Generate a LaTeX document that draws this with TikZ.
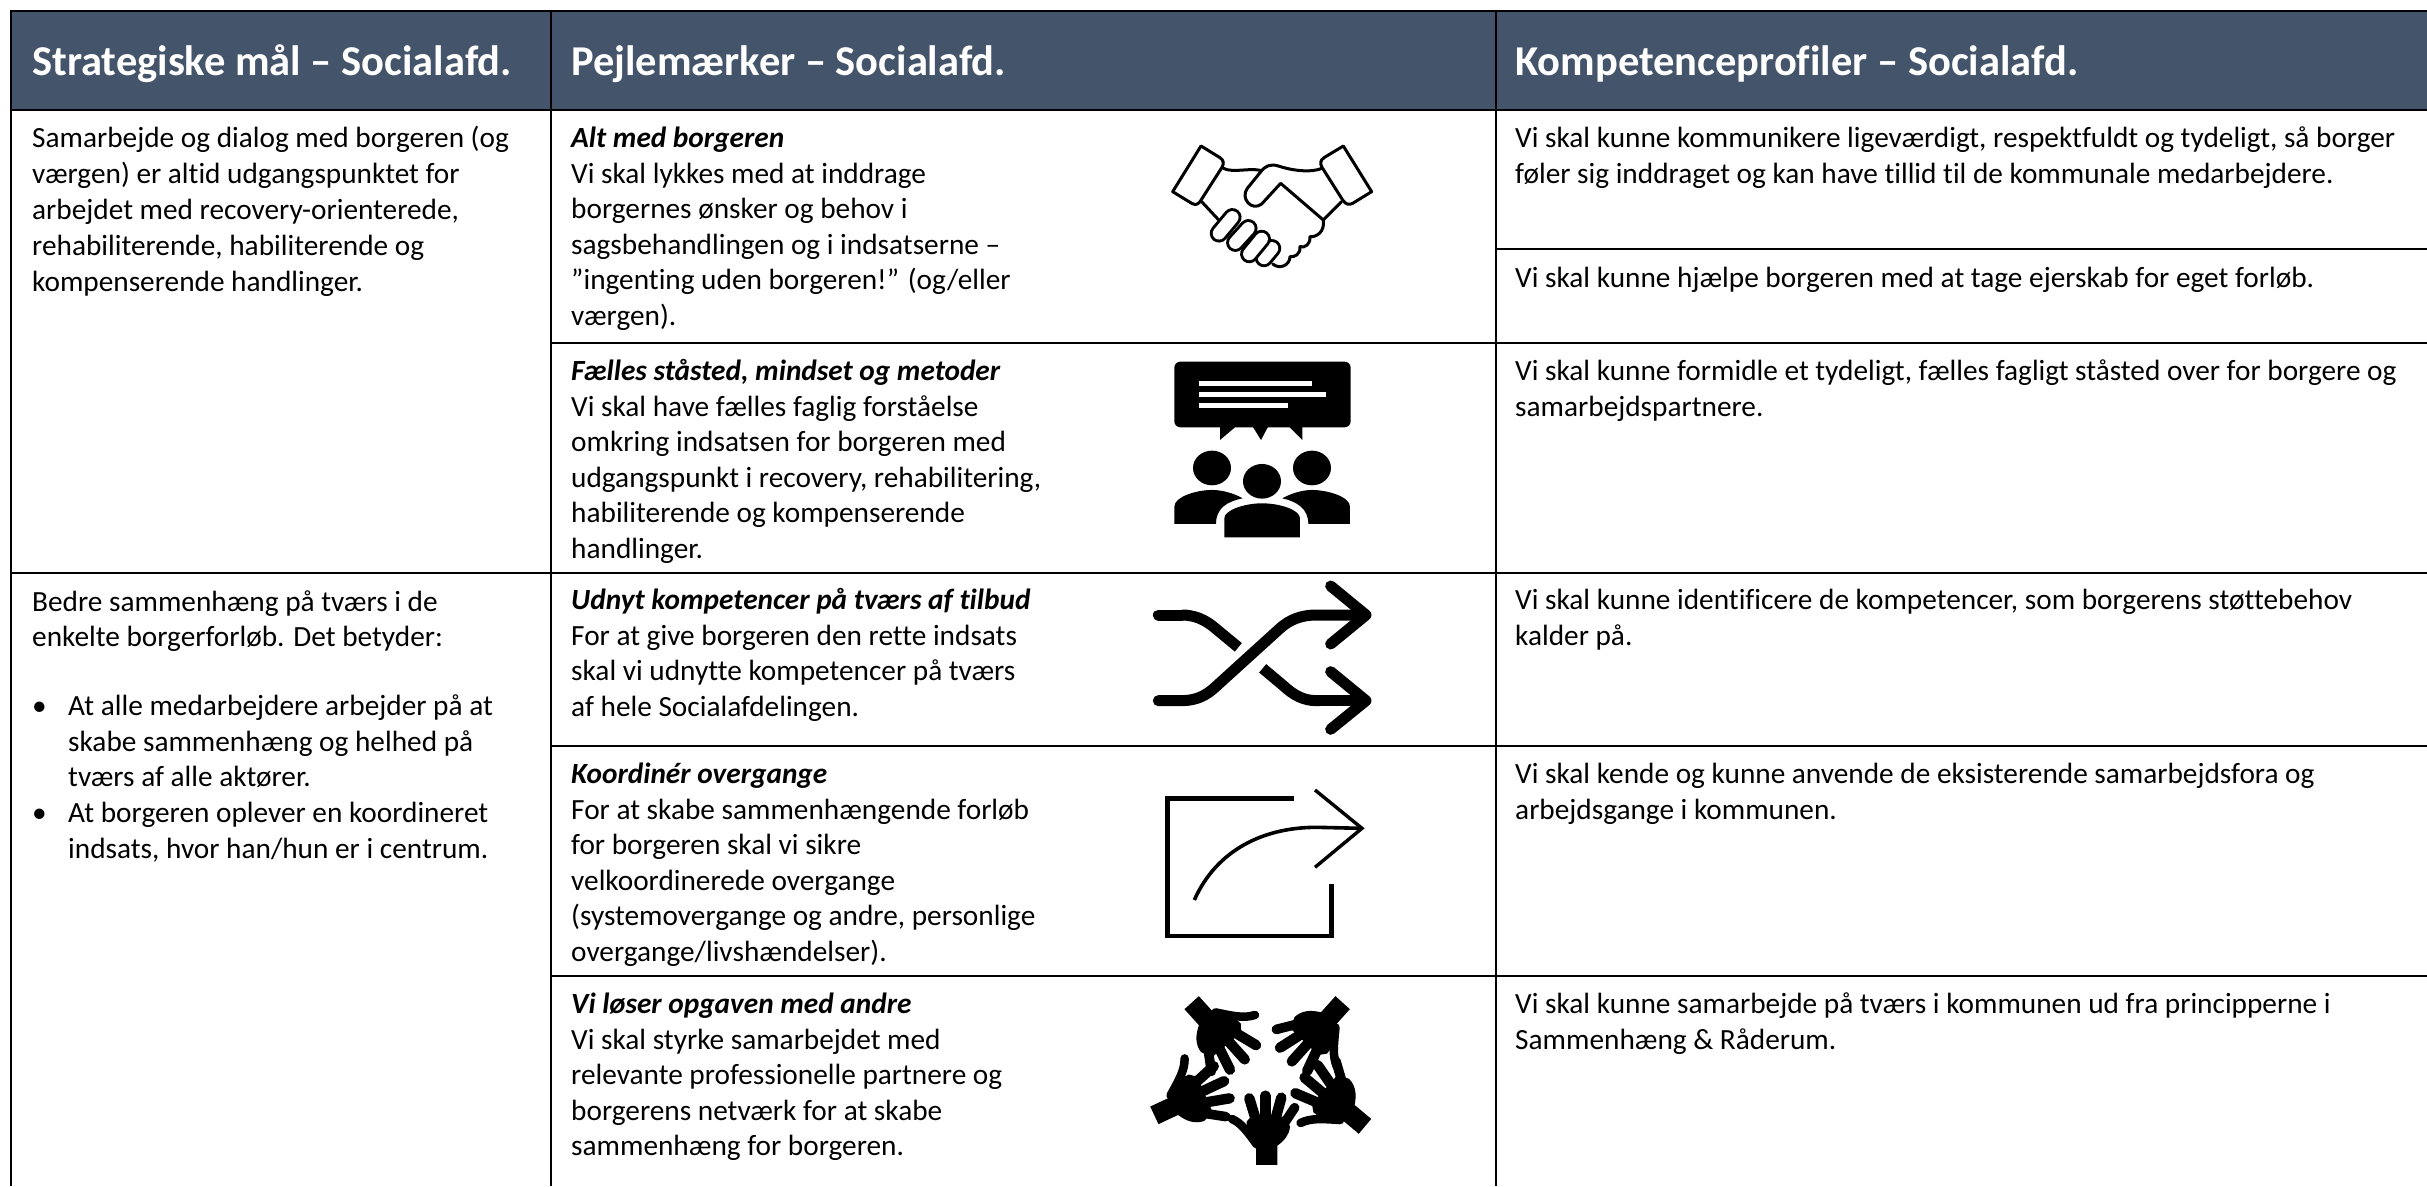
\documentclass[tikz,border=0pt]{standalone}
\usepackage{fontspec}
\setmainfont[Ligatures=NoCommon]{Carlito}
\definecolor{headblue}{HTML}{44546A}
\tikzset{
  gridline/.style={line width=2.6pt,black},
  celltext/.style={anchor=north west,inner sep=0pt,align=left,font=\fontsize{29.3}{35.5}\selectfont},
  widecell/.style={celltext,font=\fontsize{29.3}{36}\selectfont},
  headtext/.style={anchor=base west,inner sep=0pt,text=white,font=\fontsize{42.5}{50}\selectfont\bfseries},
  icon/.style={x=0.3333pt,y=-0.3333pt},
  pics/handicon/.style={code={
    \fill (-#1,0) -- (-#1,-58) .. controls (-52,-75) and (-60,-100) .. (-60,-130)
      -- (-45,-148) -- (58,-145) -- (70,-115) .. controls (68,-90) and (52,-72) .. (#1,-58) -- (#1,0) -- cycle;
    \draw[line width=10.4pt,line cap=round] (-52,-200) -- (-26,-115);
    \draw[line width=10.4pt,line cap=round] (-4,-208) -- (-4,-115);
    \draw[line width=10.4pt,line cap=round] (44,-202) -- (20,-115);
    \draw[line width=9.6pt,line cap=round] (84,-172) -- (36,-100);
    \draw[line width=8.5pt,line cap=round] (-104,-138) .. controls (-75,-125) and (-58,-100) .. (-30,-62);
  }}
}
\begin{document}
\begin{tikzpicture}[x=1pt,y=-1pt]
\useasboundingbox (0,0) rectangle (2427,1186);
% header
\fill[headblue] (11,11) rectangle (2427,110);
% grid
\draw[gridline] (2427,11) -- (11,11) -- (11,1186);
\draw[gridline] (551,11) -- (551,1186);
\draw[gridline] (1496,11) -- (1496,1186);
\draw[gridline] (11,110) -- (2427,110);
\draw[gridline] (1496,249) -- (2427,249);
\draw[gridline] (551,343) -- (2427,343);
\draw[gridline] (11,573) -- (2427,573);
\draw[gridline] (551,746) -- (2427,746);
\draw[gridline] (551,976) -- (2427,976);
% header text
\node[headtext] (h1) at (32,75) {Strategiske mål – Socialafd.};
\node[headtext] (h2) at (571,75) {Pejlemærker – Socialafd.};
\node[headtext] (h3) at (1515,75) {Kompetenceprofiler – Socialafd.};
% column 1
\node[widecell] (s1) at (32,122) {\strut Samarbejde og dialog med borgeren (og\\værgen) er altid udgangspunktet for\\arbejdet med recovery-orienterede,\\rehabiliterende, habiliterende og\\kompenserende handlinger.};
\node[celltext] (s2) at (32,586) {\strut Bedre sammenhæng på tværs i de\\enkelte borgerforløb. Det betyder:};
\node[celltext] (b1) at (32,690.5) {\strut •};
\node[celltext] (s3) at (68,690.5) {\strut At alle medarbejdere arbejder på at\\skabe sammenhæng og helhed på\\tværs af alle aktører.};
\node[celltext] (b2) at (32,797.5) {\strut •};
\node[celltext] (s4) at (68,797.5) {\strut At borgeren oplever en koordineret\\indsats, hvor han/hun er i centrum.};
% column 2
\node[celltext] (p1) at (571,122.5) {\strut\textbf{\textit{Alt med borgeren}}\\Vi skal lykkes med at inddrage\\borgernes ønsker og behov i\\sagsbehandlingen og i indsatserne –\\”ingenting uden borgeren!” (og/eller\\værgen).};
\node[celltext] (p2) at (571,355.5) {\strut\textbf{\textit{Fælles ståsted, mindset og metoder}}\\Vi skal have fælles faglig forståelse\\omkring indsatsen for borgeren med\\udgangspunkt i recovery, rehabilitering,\\habiliterende og kompenserende\\handlinger.};
\node[celltext] (p3) at (571,584.5) {\strut\textbf{\textit{Udnyt kompetencer på tværs af tilbud}}\\For at give borgeren den rette indsats\\skal vi udnytte kompetencer på tværs\\af hele Socialafdelingen.};
\node[celltext] (p4) at (571,758.5) {\strut\textbf{\textit{Koordinér overgange}}\\For at skabe sammenhængende forløb\\for borgeren skal vi sikre\\velkoordinerede overgange\\(systemovergange og andre, personlige\\overgange/livshændelser).};
\node[celltext] (p5) at (571,988.5) {\strut\textbf{\textit{Vi løser opgaven med andre}}\\Vi skal styrke samarbejdet med\\relevante professionelle partnere og\\borgerens netværk for at skabe\\sammenhæng for borgeren.};
% column 3
\node[widecell] (k1) at (1515,122) {\strut Vi skal kunne kommunikere ligeværdigt, respektfuldt og tydeligt, så borger\\føler sig inddraget og kan have tillid til de kommunale medarbejdere.};
\node[celltext] (k2) at (1515,262.5) {\strut Vi skal kunne hjælpe borgeren med at tage ejerskab for eget forløb.};
\node[celltext] (k3) at (1515,355.5) {\strut Vi skal kunne formidle et tydeligt, fælles fagligt ståsted over for borgere og\\samarbejdspartnere.};
\node[celltext] (k4) at (1515,584.5) {\strut Vi skal kunne identificere de kompetencer, som borgerens støttebehov\\kalder på.};
\node[celltext] (k5) at (1515,758.5) {\strut Vi skal kende og kunne anvende de eksisterende samarbejdsfora og\\arbejdsgange i kommunen.};
\node[celltext] (k6) at (1515,988.5) {\strut Vi skal kunne samarbejde på tværs i kommunen ud fra principperne i\\Sammenhæng \& Råderum.};
% handshake icon
\begin{scope}[shift={(1120,120)},icon,line width=3pt,line join=round,line cap=round]
  \draw (243,78) -- (300,113) .. controls (312,122) and (312,130) .. (306,142) -- (240,245) .. controls (232,255) and (225,255) .. (215,250) -- (158,215) -- cycle;
  \draw (670,78) -- (612,113) .. controls (600,122) and (600,130) .. (606,142) -- (668,240) .. controls (678,255) and (688,255) .. (698,250) -- (755,215) -- cycle;
  \draw (310,145) .. controls (340,160) and (390,142) .. (425,152);
  \draw (606,145) .. controls (570,160) and (510,150) .. (475,138) .. controls (450,130) and (435,140) .. (425,152) -- (382,205) .. controls (360,235) and (395,275) .. (425,252) -- (482,190) -- (610,300) -- (665,245);
  \draw (245,245) -- (298,302);
  \draw (610,300) .. controls (615,335) and (590,352) .. (570,350) .. controls (572,372) and (555,385) .. (540,380) .. controls (542,402) and (525,412) .. (510,410) .. controls (510,435) and (480,450) .. (458,432);
  \foreach \xa/\ya/\xb/\yb in {456/385/432/414, 425/357/388/402, 385/325/346/368, 337/292/297/340}{
    \draw[line width=18.5pt] (\xa,\ya) -- (\xb,\yb);
    \draw[white,line width=12.5pt] (\xa,\ya) -- (\xb,\yb);
  }
\end{scope}
% speech and people icon
\begin{scope}[shift={(1120,120)},icon]
  \fill[rounded corners=6pt] (163,725) rectangle (692,922);
  \fill[white] (236,784) rectangle (575,798);
  \fill[white] (236,817) rectangle (619,830);
  \fill[white] (236,850) rectangle (503,863);
  \fill (300,915) -- (300,960) -- (345,922) -- cycle;
  \fill (395,915) -- (423,960) -- (447,915) -- cycle;
  \fill (502,915) -- (547,960) -- (547,915) -- cycle;
  \fill (276,1044) ellipse [x radius=57,y radius=52];
  \fill (576,1044) ellipse [x radius=57,y radius=52];
  \fill (426,1084) ellipse [x radius=57,y radius=52];
  \fill (163,1212) -- (163,1160) .. controls (163,1130) and (230,1110) .. (276,1110) .. controls (310,1110) and (345,1122) .. (368,1135) .. controls (320,1145) and (288,1165) .. (288,1212) -- cycle;
  \fill (690,1212) -- (690,1160) .. controls (690,1130) and (622,1110) .. (576,1110) .. controls (545,1110) and (510,1122) .. (487,1135) .. controls (530,1145) and (565,1165) .. (565,1212) -- cycle;
  \fill (313,1252) -- (313,1195) .. controls (313,1170) and (375,1150) .. (426,1150) .. controls (480,1150) and (540,1170) .. (540,1195) -- (540,1252) -- cycle;
\end{scope}
% shuffle icon
\begin{scope}[shift={(1120,570)},icon,line width=11pt]
  \draw[line cap=round] (115,135) -- (185,135);
  \draw (185,135) .. controls (225,135) and (255,150) .. (280,170) -- (355,232);
  \draw[line cap=round] (115,392) -- (185,392) .. controls (230,392) and (260,375) .. (285,352) -- (480,175) .. controls (510,148) and (545,135) .. (590,135) -- (730,135);
  \draw[line cap=round,line join=round] (632,48) -- (738,135) -- (632,222);
  \draw (428,295) -- (490,347) .. controls (520,375) and (550,392) .. (590,392) -- (600,392);
  \draw[line cap=round] (600,392) -- (730,392);
  \draw[line cap=round,line join=round] (632,305) -- (738,392) -- (632,478);
\end{scope}
% share icon
\begin{scope}[shift={(1120,570)},icon]
  \draw[line width=4.6pt,miter limit=10] (522,685) -- (142,685) -- (142,1098) -- (635,1098) -- (635,942);
  \draw[line width=3.6pt] (223,990) .. controls (290,840) and (430,772) .. (590,772) -- (722,775);
  \draw[line width=3.4pt,line join=miter] (585,660) -- (726,775) -- (585,892);
\end{scope}
% hands icon
\begin{scope}[shift={(1120,970)},icon]
  \pic at (440,585) {handicon=32};
  \pic[rotate=138,scale=1.12] at (668,98) {handicon=26};
  \pic[rotate=-138,scale=1.12] at (215,98) {handicon=26};
  \pic[rotate=50,scale=1.12] at (735,469) {handicon=26};
  \pic[rotate=-65,scale=1.12] at (103,436) {handicon=26};
\end{scope}
\end{tikzpicture}
\end{document}
